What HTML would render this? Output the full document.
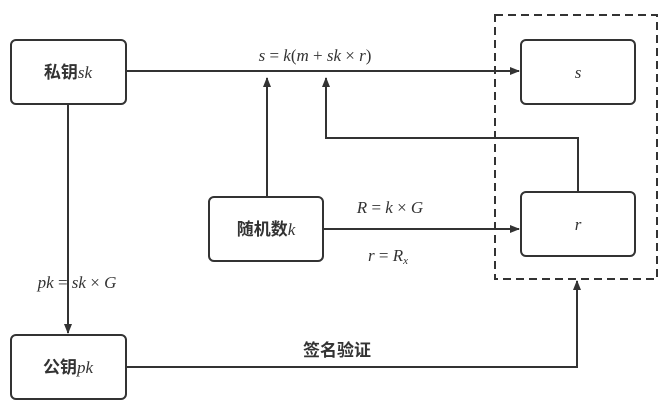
<!DOCTYPE html>
<html><head><meta charset="utf-8"><style>
body{margin:0;background:#fff;}
svg text{font-family:"Liberation Serif","Noto Serif CJK SC",serif;fill:#333;}
.cn{font-family:"Liberation Sans","Noto Sans CJK SC",sans-serif;font-weight:bold;}
</style></head><body>
<svg width="670" height="410" viewBox="0 0 670 410" xmlns="http://www.w3.org/2000/svg">
<defs><marker id="a" markerWidth="10" markerHeight="8" refX="9" refY="4" orient="auto" markerUnits="userSpaceOnUse"><path d="M0,0 L10,4 L0,8 z" fill="#333"/></marker></defs>
<g fill="none" stroke="#333" stroke-width="2">
<rect x="11" y="40" width="115" height="64" rx="5"/>
<rect x="521" y="40" width="114" height="64" rx="5"/>
<rect x="209" y="197" width="114" height="64" rx="5"/>
<rect x="521" y="192" width="114" height="64" rx="5"/>
<rect x="11" y="335" width="115" height="64" rx="5"/>
<rect x="495" y="15" width="162" height="264" stroke-dasharray="8,5"/>
<line x1="126" y1="71" x2="519" y2="71" marker-end="url(#a)"/>
<line x1="267" y1="197" x2="267" y2="78" marker-end="url(#a)"/>
<polyline points="578,192 578,138 326,138 326,78" marker-end="url(#a)"/>
<line x1="323" y1="229" x2="519" y2="229" marker-end="url(#a)"/>
<line x1="68" y1="104" x2="68" y2="333" marker-end="url(#a)"/>
<polyline points="126,367 577,367 577,281" marker-end="url(#a)"/>
</g>
<text x="68" y="78" font-size="17" text-anchor="middle"><tspan class="cn">私钥</tspan><tspan font-style="italic">sk</tspan></text>
<text x="68" y="373" font-size="17" text-anchor="middle"><tspan class="cn">公钥</tspan><tspan font-style="italic">pk</tspan></text>
<text x="266" y="235" font-size="17" text-anchor="middle"><tspan class="cn">随机数</tspan><tspan font-style="italic">k</tspan></text>
<text x="578" y="78" font-size="17" text-anchor="middle" font-style="italic">s</text>
<text x="578" y="230" font-size="17" text-anchor="middle" font-style="italic">r</text>
<text x="315" y="61" font-size="17" text-anchor="middle"><tspan font-style="italic">s</tspan> = <tspan font-style="italic">k</tspan>(<tspan font-style="italic">m</tspan> + <tspan font-style="italic">sk</tspan> × <tspan font-style="italic">r</tspan>)</text>
<text x="390" y="213" font-size="17" text-anchor="middle"><tspan font-style="italic">R</tspan> = <tspan font-style="italic">k</tspan> × <tspan font-style="italic">G</tspan></text>
<text x="388" y="261" font-size="17" text-anchor="middle"><tspan font-style="italic">r</tspan> = <tspan font-style="italic">R</tspan><tspan font-style="italic" font-size="11" dy="3">x</tspan></text>
<text x="77" y="288" font-size="17" text-anchor="middle"><tspan font-style="italic">pk</tspan> = <tspan font-style="italic">sk</tspan> × <tspan font-style="italic">G</tspan></text>
<text x="337" y="356" font-size="17" text-anchor="middle" class="cn">签名验证</text>
</svg>
</body></html>
